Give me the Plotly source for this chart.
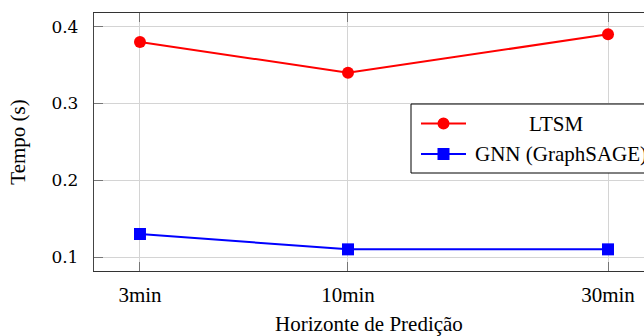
import plotly.graph_objects as go

# ---- data ----
horizons = ["3min", "10min", "30min"]
x_pos = [0, 1, 2.25]
ltsm = [0.38, 0.34, 0.39]
gnn = [0.13, 0.11, 0.11]
y_ticks = [0.1, 0.2, 0.3, 0.4]
series_names = ["LTSM", "GNN (GraphSAGE)"]

W, H = 644, 336
ML, MR, MT, MB = 94, 0, 13, 336 - 271
PW, PH = W - ML - MR, H - MT - MB
FONT = "Liberation Serif"
MATHFONT = "DejaVu Serif"

def px_x(p):
    return (p - ML) / PW

def px_y(p):
    return (H - MB - p) / PH

fig = go.Figure()
fig.add_trace(go.Scatter(
    x=x_pos, y=ltsm, mode="lines+markers", name=series_names[0],
    line=dict(color="#ff0000", width=2),
    marker=dict(symbol="circle", size=12, color="#ff0000"),
    showlegend=False, cliponaxis=False))
fig.add_trace(go.Scatter(
    x=x_pos, y=gnn, mode="lines+markers", name=series_names[1],
    line=dict(color="#0000ff", width=2),
    marker=dict(symbol="square", size=12, color="#0000ff"),
    showlegend=False, cliponaxis=False))

# ---- manual legend (pgfplots-like, clipped at right edge) ----
shapes = []
shapes.append(dict(type="rect", xref="paper", yref="paper",
                   x0=px_x(411), x1=px_x(720), y0=px_y(104), y1=px_y(173),
                   fillcolor="white", line=dict(color="black", width=1), layer="above"))
rows = [(123.5, "#ff0000", "circle"), (154, "#0000ff", "square")]
for yy, col, sym in rows:
    shapes.append(dict(type="line", xref="paper", yref="paper",
                       x0=px_x(421), x1=px_x(466), y0=px_y(yy), y1=px_y(yy),
                       line=dict(color=col, width=2), layer="above"))
    kind = "circle" if sym == "circle" else "rect"
    shapes.append(dict(type=kind, xref="paper", yref="paper",
                       xsizemode="pixel", ysizemode="pixel",
                       xanchor=px_x(443.5), yanchor=px_y(yy),
                       x0=-6, x1=6, y0=-6, y1=6,
                       fillcolor=col, line=dict(color=col, width=0), layer="above"))

annotations = [
    dict(text=series_names[0], xref="paper", yref="paper", x=px_x(556), y=px_y(123.5),
         xanchor="center", yanchor="middle", showarrow=False,
         font=dict(family=FONT, size=21, color="black")),
    dict(text=series_names[1], xref="paper", yref="paper", x=px_x(473), y=px_y(154),
         xanchor="left", yanchor="middle", showarrow=False,
         font=dict(family=FONT, size=21, color="black")),
]

fig.update_layout(
    width=W, height=H,
    margin=dict(l=ML, r=MR, t=MT, b=MB, pad=0, autoexpand=False),
    paper_bgcolor="white", plot_bgcolor="white",
    font=dict(family=FONT, size=21, color="black"),
    shapes=shapes, annotations=annotations,
    xaxis=dict(
        range=[-0.221, 2.423], tickvals=x_pos, ticktext=horizons,
        automargin=False,
        showgrid=True, gridcolor="#d4d4d4", gridwidth=1.2,
        showline=True, linecolor="#333333", linewidth=1, mirror="ticks",
        ticks="inside", ticklen=9, tickcolor="#777777", tickwidth=1.2,
        ticklabelstandoff=5, zeroline=False,
        title=dict(text="Horizonte de Predição", standoff=14,
                   font=dict(family=FONT, size=21)),
        tickfont=dict(family=FONT, size=21),
    ),
    yaxis=dict(
        range=[0.0818, 0.4178], tickvals=y_ticks,
        ticktext=[f"{v:.1f}" for v in y_ticks],
        automargin=False,
        showgrid=True, gridcolor="#d4d4d4", gridwidth=1.2,
        showline=True, linecolor="#444444", linewidth=1.3, mirror=False,
        ticks="inside", ticklen=9, tickcolor="#777777", tickwidth=1.2,
        ticklabelstandoff=11, zeroline=False,
        title=dict(text="Tempo (s)", standoff=20,
                   font=dict(family=FONT, size=21)),
        tickfont=dict(family=MATHFONT, size=17),
    ),
)

fig.write_html(
    "out.html",
    config={"displayModeBar": False},
    post_script="document.body.style.margin='0';document.body.style.overflow='hidden';",
)
